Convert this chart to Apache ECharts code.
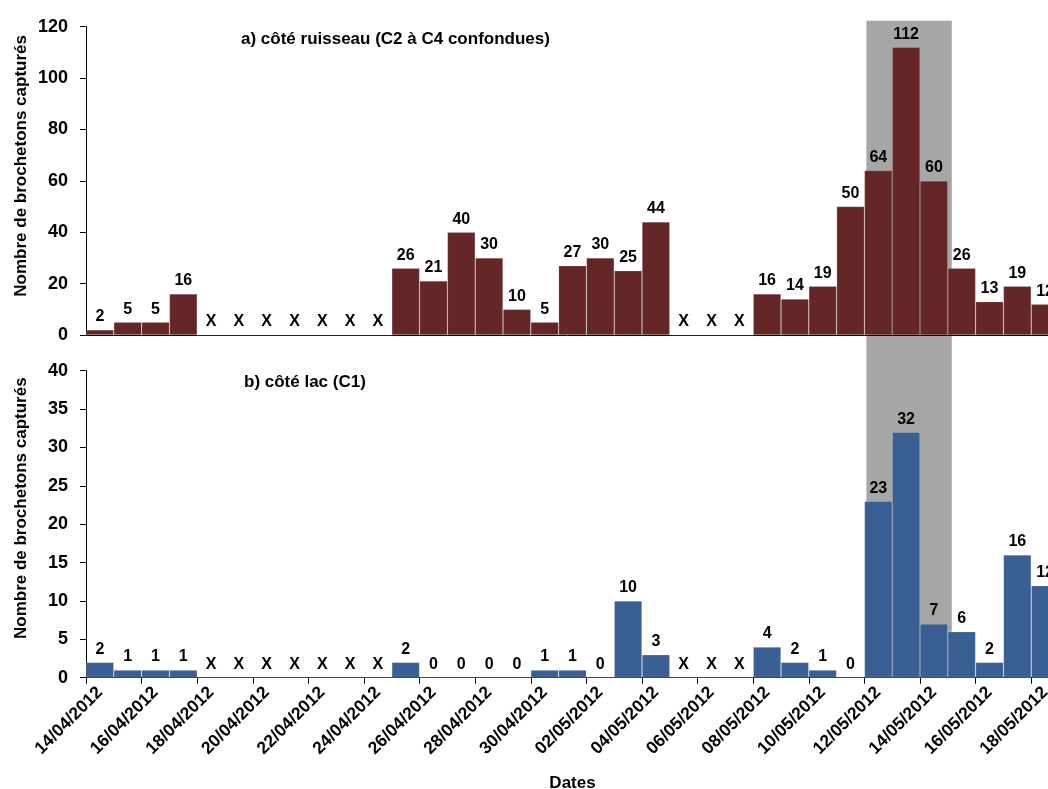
<!DOCTYPE html>
<html><head><meta charset="utf-8">
<script src="https://cdn.jsdelivr.net/npm/echarts@6/dist/echarts.min.js"></script>
<style>html,body{margin:0;padding:0;background:#fff}#c{width:1048px;height:789px}</style>
</head><body><div id="c"></div>
<script>
const dates = ['14/04/2012','15/04/2012','16/04/2012','17/04/2012','18/04/2012','19/04/2012','20/04/2012','21/04/2012','22/04/2012','23/04/2012','24/04/2012','25/04/2012','26/04/2012','27/04/2012','28/04/2012','29/04/2012','30/04/2012','01/05/2012','02/05/2012','03/05/2012','04/05/2012','05/05/2012','06/05/2012','07/05/2012','08/05/2012','09/05/2012','10/05/2012','11/05/2012','12/05/2012','13/05/2012','14/05/2012','15/05/2012','16/05/2012','17/05/2012','18/05/2012'];
// null = no sampling (shown as "X")
const ruisseau = [2,5,5,16,null,null,null,null,null,null,null,26,21,40,30,10,5,27,30,25,44,null,null,null,16,14,19,50,64,112,60,26,13,19,12];
const lac = [2,1,1,1,null,null,null,null,null,null,null,2,0,0,0,0,1,1,0,10,3,null,null,null,4,2,1,0,23,32,7,6,2,16,12];
const titleA = 'a) côté ruisseau (C2 à C4 confondues)';
const titleB = 'b) côté lac (C1)';
const yName = 'Nombre de brochetons capturés';
const xName = 'Dates';
const missingMark = 'X';
const yTop = {min: 0, max: 120, interval: 20};
const yBottom = {min: 0, max: 40, interval: 5};
const shadedFrom = '12/05/2012', shadedTo = '14/05/2012';

const FONT = "'Liberation Sans', Arial, sans-serif";
const toData = arr => arr.map(v => v === null ? {value: 0, label: {formatter: missingMark}} : v);

const chart = echarts.init(document.getElementById('c'), null, {renderer: 'canvas'});
const gridLeft = 86, gridWidth = 973;
const labelStyle = {show: true, position: 'top', distance: 5, color: '#000', fontFamily: FONT, fontWeight: 'bold', fontSize: 16};
const yAxisCommon = {
  type: 'value',
  axisLine: {show: true, lineStyle: {color: '#000', width: 1}},
  axisTick: {show: true, length: 6, lineStyle: {color: '#000'}},
  splitLine: {show: false},
  axisLabel: {color: '#000', fontFamily: FONT, fontWeight: 'bold', fontSize: 18, margin: 18}
};
const option = {
  animation: false,
  backgroundColor: '#fff',
  title: [
    {text: titleA, left: 236, top: 26, textStyle: {fontFamily: FONT, fontWeight: 'bold', fontSize: 17, color: '#000'}},
    {text: titleB, left: 239, top: 369, textStyle: {fontFamily: FONT, fontWeight: 'bold', fontSize: 17, color: '#000'}}
  ],
  grid: [
    {left: gridLeft, top: 26.7, width: gridWidth, height: 308.3, outerBoundsMode: 'none', containLabel: false},
    {left: gridLeft, top: 370.7, width: gridWidth, height: 307, outerBoundsMode: 'none', containLabel: false}
  ],
  xAxis: [
    {type: 'category', gridIndex: 0, data: dates, boundaryGap: true,
     axisLine: {show: true, lineStyle: {color: '#000', width: 1}}, axisTick: {show: false}, axisLabel: {show: false}},
    {type: 'category', gridIndex: 1, data: dates, boundaryGap: true,
     axisLine: {show: true, lineStyle: {color: '#000', width: 1}},
     axisTick: {show: true, interval: 1, length: 6, lineStyle: {color: '#000'}},
     axisLabel: {interval: 1, rotate: 45, margin: 12, color: '#000', fontFamily: FONT, fontWeight: 'bold', fontSize: 17.5},
     name: xName, nameLocation: 'middle', nameGap: 97,
     nameTextStyle: {color: '#000', fontFamily: FONT, fontWeight: 'bold', fontSize: 17}}
  ],
  yAxis: [
    Object.assign({gridIndex: 0}, yAxisCommon, yTop),
    Object.assign({gridIndex: 1}, yAxisCommon, yBottom)
  ],
  series: [
    {type: 'bar', xAxisIndex: 0, yAxisIndex: 0, data: toData(ruisseau), barCategoryGap: '0%',
     itemStyle: {color: '#642626', borderColor: 'rgba(255,255,255,0.25)', borderWidth: 0.6}, label: labelStyle, z: 3},
    {type: 'bar', xAxisIndex: 1, yAxisIndex: 1, data: toData(lac), barCategoryGap: '0%',
     itemStyle: {color: '#3A6093', borderColor: 'rgba(255,255,255,0.3)', borderWidth: 0.6}, label: labelStyle, z: 3}
  ]
};
chart.setOption(option);

// shaded period and rotated y-axis names
const c0 = chart.convertToPixel({xAxisIndex: 1}, dates[0]);
const c1 = chart.convertToPixel({xAxisIndex: 1}, dates[1]);
const bw = c1 - c0;
const xs = chart.convertToPixel({xAxisIndex: 1}, shadedFrom) - bw / 2 + 2;
const xe = chart.convertToPixel({xAxisIndex: 1}, shadedTo) + bw / 2 + 4;
const yTopPx = chart.convertToPixel({yAxisIndex: 0}, yTop.max) - 6;
const yBotPx = chart.convertToPixel({yAxisIndex: 1}, 0);
const mid0 = chart.convertToPixel({yAxisIndex: 0}, yTop.max / 2) - 15;
const mid1 = chart.convertToPixel({yAxisIndex: 1}, yBottom.max / 2) - 16;
chart.setOption({
  graphic: [
    {type: 'rect', z: -10, silent: true, shape: {x: xs, y: yTopPx, width: xe - xs, height: yBotPx - yTopPx}, style: {fill: '#A6A6A6'}},
    {type: 'text', x: 21, y: mid0, rotation: Math.PI / 2, style: {text: yName, fill: '#000', font: 'bold 17px ' + FONT, textAlign: 'center', textVerticalAlign: 'middle'}},
    {type: 'text', x: 21, y: mid1, rotation: Math.PI / 2, style: {text: yName, fill: '#000', font: 'bold 17px ' + FONT, textAlign: 'center', textVerticalAlign: 'middle'}}
  ]
});
</script>
</body></html>
